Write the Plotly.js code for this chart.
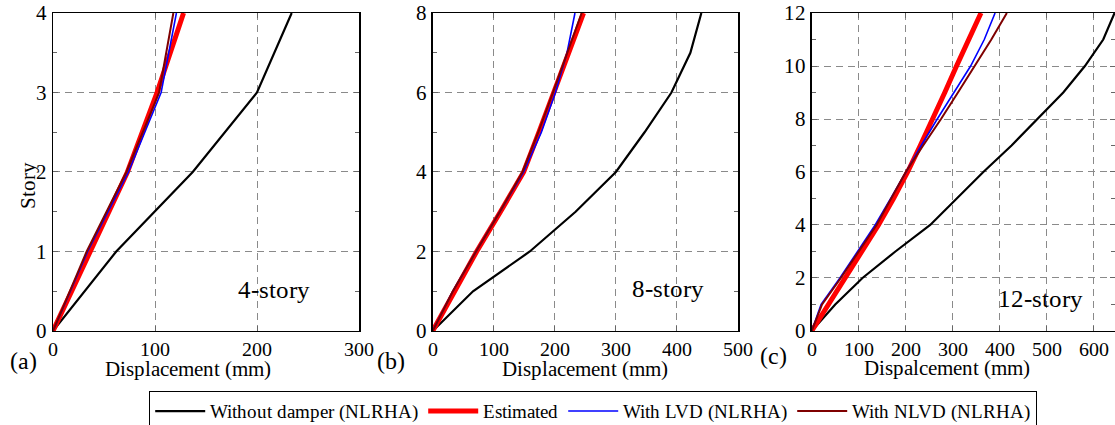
<!DOCTYPE html>
<html>
<head>
<meta charset="utf-8">
<script src="https://cdn.plot.ly/plotly-3.0.1.min.js"></script>
<style>
@font-face { font-family: 'LibSerifLocal'; src: local('Liberation Serif'), local('LiberationSerif'), local('LiberationSerif-Regular'), local('Liberation Serif Regular'); }
html,body{margin:0;padding:0;background:#fff;}#chart{width:1115px;height:425px;}
</style>
</head>
<body>
<div id="chart"></div>
<script>
// ---- data ----
const storiesA = [0, 1, 2, 3, 4];
const aWithout = [0, 62, 137, 200, 234];
const aEstimated = [0, 37, 73, 102, 128];
const aLVD = [0, 34, 74, 106, 121];
const aNLVD = [0, 33, 72, 104, 118];

const storiesB = [0, 1, 2, 3, 4, 5, 6, 7, 8];
const bWithout = [0, 66, 159, 234, 300, 347, 391, 422, 440];
const bEstimated = [0, 35, 72, 111, 149, 174, 199, 222, 247];
const bLVD = [0, 33, 71, 110, 149, 178, 201, 220, 233];
const bNLVD = [0, 33, 71, 110, 147, 173, 197, 220, 244];

const storiesC = [0, 1, 2, 3, 4, 5, 6, 7, 8, 9, 10, 11, 12];
const cWithout = [0, 50, 108, 178, 252, 308, 365, 425, 481, 535, 581, 620, 644];
const cEstimated = [0, 36, 72, 107, 142, 174, 204, 231, 258, 283, 308, 334, 360];
const cLVD = [0, 20, 60, 98, 135, 168, 200, 233, 267, 303, 338, 367, 390];
const cNLVD = [0, 22, 62, 100, 138, 169, 200, 237, 275, 311, 347, 382, 415];

const seriesNames = ['Without damper (NLRHA)', 'Estimated', 'With LVD (NLRHA)', 'With NLVD (NLRHA)'];
const panelLabels = ['(a)', '(b)', '(c)'];
const storyLabels = ['4-story', '8-story', '12-story'];
const xTitles = ['Displacement (mm)', 'Displacement (mm)', 'Dispalcement (mm)'];

// ---- styles ----
const styles = [
  {color: '#000000', width: 2.2},
  {color: '#ff0000', width: 5},
  {color: '#0000ff', width: 1.6},
  {color: '#7f0000', width: 2}
];
const FONT = 'LibSerifLocal, Liberation Serif, serif';

const panels = [
  {y: storiesA, s: [aWithout, aEstimated, aLVD, aNLVD], xa: 'x', ya: 'y'},
  {y: storiesB, s: [bWithout, bEstimated, bLVD, bNLVD], xa: 'x2', ya: 'y2'},
  {y: storiesC, s: [cWithout, cEstimated, cLVD, cNLVD], xa: 'x3', ya: 'y3'}
];

const traces = [];
panels.forEach((p, pi) => {
  p.s.forEach((vals, si) => {
    traces.push({
      x: vals, y: p.y, xaxis: p.xa, yaxis: p.ya,
      type: 'scatter', mode: 'lines',
      name: seriesNames[si],
      line: {color: styles[si].color, width: styles[si].width},
      showlegend: pi === 0,
      hoverinfo: 'skip'
    });
  });
});

const W = 1115, H = 425;
const px = v => v / W;
const py = v => (H - v) / H;

function xAxis(dom, range, dtick) {
  return {
    domain: dom, range: range, dtick: dtick, tick0: 0,
    showgrid: true, gridcolor: '#8a8a8a', gridwidth: 1, griddash: '7px,5px',
    zeroline: false, showline: true, linecolor: '#000', linewidth: 1.5, mirror: 'ticks',
    ticks: 'inside', ticklen: 5, tickcolor: '#666', tickwidth: 1,
    tickfont: {family: FONT, size: 20, color: '#000'},
    ticklabelstandoff: 0,
    automargin: false,
    fixedrange: true
  };
}
function yAxis(range, dtick, minorDtick, anchor) {
  return {
    domain: [0.2212, 0.9694], range: range, dtick: dtick, tick0: 0,
    anchor: anchor,
    showgrid: true, gridcolor: '#8a8a8a', gridwidth: 1, griddash: '7px,5px',
    zeroline: false, showline: true, linecolor: '#000', linewidth: 1.5, mirror: 'ticks',
    ticks: 'inside', ticklen: 5, tickcolor: '#666', tickwidth: 1,
    minor: {dtick: minorDtick, ticks: 'inside', ticklen: 4, tickcolor: '#666', showgrid: false},
    tickfont: {family: FONT, size: 21, color: '#000'},
    ticklabelstandoff: 0,
    automargin: false,
    fixedrange: true
  };
}

const annotations = [];
// panel labels
[[23, 361], [391, 361], [773, 356]].forEach((c, i) => annotations.push({
  text: panelLabels[i], xref: 'paper', yref: 'paper', x: px(c[0]), y: py(c[1]),
  xanchor: 'center', yanchor: 'middle', showarrow: false,
  font: {family: FONT, size: 24, color: '#000'}
}));
// x titles
[[188, 369], [585, 369], [947, 368]].forEach((c, i) => annotations.push({
  text: xTitles[i], xref: 'paper', yref: 'paper', x: px(c[0]), y: py(c[1]),
  xanchor: 'center', yanchor: 'middle', showarrow: false,
  font: {family: FONT, size: 21, color: '#000'}
}));
// y title
annotations.push({
  text: 'Story', xref: 'paper', yref: 'paper', x: px(28), y: py(186), textangle: -90,
  xanchor: 'center', yanchor: 'middle', showarrow: false,
  font: {family: FONT, size: 21, color: '#000'}
});
// story labels inside panels
[[274, 289], [668, 288], [1040, 298]].forEach((c, i) => annotations.push({
  text: storyLabels[i], xref: 'paper', yref: 'paper', x: px(c[0]), y: py(c[1]),
  xanchor: 'center', yanchor: 'middle', showarrow: false,
  font: {family: FONT, size: 25, color: '#000'}
}));

const layout = {
  width: W, height: H,
  margin: {l: 0, r: 0, t: 0, b: 0, autoexpand: false},
  paper_bgcolor: '#fff', plot_bgcolor: '#fff',
  font: {family: FONT, color: '#000'},
  xaxis: Object.assign(xAxis([53 / W, 359 / W], [0, 300], 100), {anchor: 'y'}),
  yaxis: yAxis([0, 4], 1, 0.5, 'x'),
  xaxis2: Object.assign(xAxis([432.7 / W, 738 / W], [0, 500], 100), {anchor: 'y2'}),
  yaxis2: yAxis([0, 8], 2, 1, 'x2'),
  xaxis3: Object.assign(xAxis([811.7 / W, 1], [0, 645], 100), {anchor: 'y3'}),
  yaxis3: yAxis([0, 12], 2, 1, 'x3'),
  showlegend: true,
  legend: {
    orientation: 'h', x: px(593), xanchor: 'center', y: py(391), yanchor: 'top',
    bordercolor: '#000', borderwidth: 1.2, bgcolor: '#fff',
    font: {family: FONT, size: 19, color: '#000'},
    itemwidth: 50, tracegroupgap: 0, itemclick: false, itemdoubleclick: false
  },
  annotations: annotations
};

Plotly.newPlot('chart', traces, layout, {displayModeBar: false, staticPlot: true});
</script>
</body>
</html>
